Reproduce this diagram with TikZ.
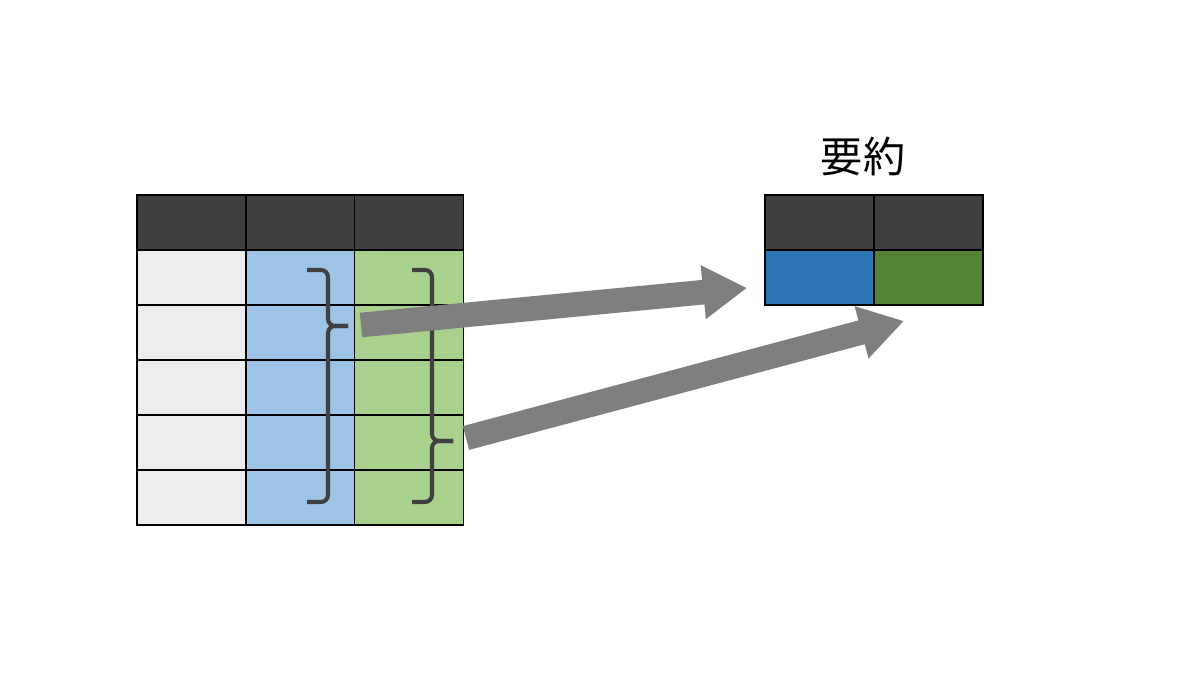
\documentclass[tikz,border=0pt]{standalone}
\usepackage{fontspec}
\newfontfamily\jpfont{Noto Sans CJK JP}
\usetikzlibrary{arrows.meta}

\definecolor{headgray}{HTML}{404040}
\definecolor{firstcol}{HTML}{EDEDED}
\definecolor{bluecol}{HTML}{9DC3E6}
\definecolor{greencol}{HTML}{A9D18E}
\definecolor{darkblue}{HTML}{2E75B6}
\definecolor{darkgreen}{HTML}{548235}
\definecolor{arrowgray}{HTML}{7F7F7F}

\begin{document}
\begin{tikzpicture}[x=0.02cm, y=-0.02cm,
    cell/.style={draw=black, line width=0.8pt, minimum width=2.18cm,
      minimum height=1.1cm, inner sep=0pt, outer sep=0pt},
    brace/.style={draw=headgray, line width=2.3pt, rounded corners=4pt},
    bigarrow/.style={draw=arrowgray, line width=14pt,
      -{Triangle[length=25pt, width=29pt]}}]
  \useasboundingbox (0,0) rectangle (1200,675);

  % Source table
  \foreach \col/\cx/\fillc in {1/191.5/firstcol, 2/300.5/bluecol, 3/409/greencol} {
    \node[cell, fill=headgray] (h\col) at (\cx,222.5) {};
    \foreach \row in {1,...,5}
      \node[cell, fill=\fillc] (c\col\row) at (\cx,{222.5+55*\row}) {};
  }

  % Summary table
  \node[cell, fill=headgray] (sh1) at (819.5,222.5) {};
  \node[cell, fill=headgray] (sh2) at (928.5,222.5) {};
  \node[cell, fill=darkblue] (s1) at (819.5,277.5) {};
  \node[cell, fill=darkgreen] (s2) at (928.5,277.5) {};
  \node[font=\jpfont\fontsize{24pt}{28pt}\selectfont] (title) at (863,157) {要約};

  % Braces
  \draw[brace] (307,270) -- (328,270) -- (328,326) -- (348,326);
  \draw[brace] (348,326) -- (328,326) -- (328,502) -- (307,502);
  \draw[brace] (412,270) -- (432,270) -- (432,441) -- (453,441);
  \draw[brace] (453,441) -- (432,441) -- (432,502) -- (412,502);

  % Arrows
  \coordinate (a1) at (361,325);
  \coordinate (b1) at (747,288);
  \coordinate (a2) at (466,438);
  \coordinate (b2) at (904,321);
  \draw[bigarrow] (a1) -- (b1);
  \draw[bigarrow] (a2) -- (b2);
\end{tikzpicture}
\end{document}
